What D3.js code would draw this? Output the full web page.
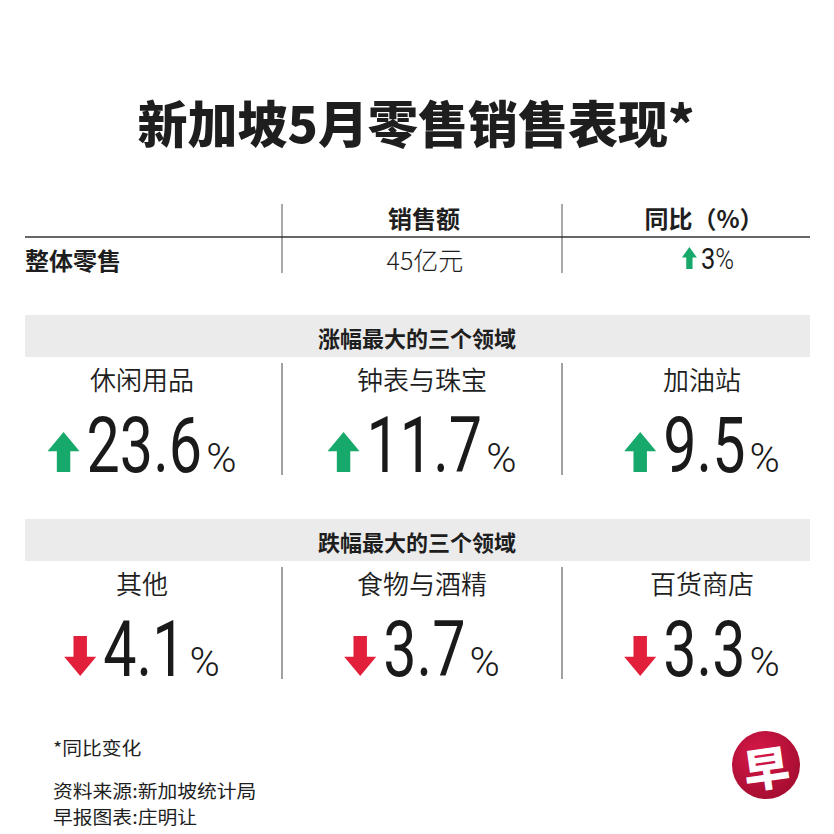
<!DOCTYPE html>
<html>
<head>
<meta charset="utf-8">
<script src="https://cdn.jsdelivr.net/npm/d3@7"></script>
<style>
 body{margin:0;background:#fff;}
 svg{display:block;}
 .cjk{font-family:"Noto Sans CJK SC",sans-serif;fill:#1e1e1e;}
 .num{font-family:Roboto,"Liberation Sans",sans-serif;font-weight:400;fill:#1a1a1a;}
</style>
</head>
<body>
<div id="chart"></div>
<script>
// Chart values
var chartTitle = "新加坡5月零售销售表现*";
var headerLabels = ["", "销售额", "同比（%）"];
var overallLabel = "整体零售";
var overallSales = "45亿元";
var overallChange = 3;
var gainTitle = "涨幅最大的三个领域";
var gainCategories = ["休闲用品", "钟表与珠宝", "加油站"];
var gainValues = [23.6, 11.7, 9.5];
var lossTitle = "跌幅最大的三个领域";
var lossCategories = ["其他", "食物与酒精", "百货商店"];
var lossValues = [-4.1, -3.7, -3.3];
var footNotes = ["*同比变化", "资料来源:新加坡统计局", "早报图表:庄明让"];
var logoChar = "早";

var W = 834, H = 834;
var green = "#17a86b", red = "#e2203c";

var svg = d3.select("#chart").append("svg")
 .attr("width", W).attr("height", H);
svg.append("rect").attr("width", W).attr("height", H).attr("fill", "#fff");

var xCol = d3.scaleBand().domain([0, 1, 2]).range([0, 840]);	//three columns
var bw = xCol.bandwidth();
function colMid(i){ return xCol(i) + bw / 2; }

//Arrow shape, up or down, w wide h tall, base line at 0
function arrowPath(up, w, h){
 var head = h * 0.48, shaft = w * 0.42;
 var p = d3.path();
 var s = up ? -1 : 1;				//up arrow grows to negative y
 p.moveTo(w / 2, s * h);
 p.lineTo(w, s * (h - head));
 p.lineTo(w / 2 + shaft / 2, s * (h - head));
 p.lineTo(w / 2 + shaft / 2, 0);
 p.lineTo(w / 2 - shaft / 2, 0);
 p.lineTo(w / 2 - shaft / 2, s * (h - head));
 p.lineTo(0, s * (h - head));
 p.closePath();
 return p.toString();
}

//Arrow + number + % centred on cx, baseline at y
//numbers are squeezed with a scale so they read like a condensed face
function valueGroup(v, cx, y, opt){
 var g = svg.append("g");
 var up = v >= 0;
 var a = g.append("path")
  .attr("fill", up ? green : red);
 var num = g.append("text").attr("class", "num")
  .style("font-size", opt.numSize + "px")
  .text(opt.fmt(Math.abs(v)));
 var pct = g.append("text").attr("class", "num")
  .style("font-size", opt.pctSize + "px")
  .style("font-weight", opt.pctWeight)
  .text("%");
 var wn = num.node().getComputedTextLength() * opt.k;
 var wp = pct.node().getComputedTextLength() * opt.kp;
 var x0 = opt.aw + opt.gap;
 num.attr("transform", "translate(" + x0 + ",0) scale(" + opt.k + ",1)");
 pct.attr("transform", "translate(" + (x0 + wn + opt.gap2) + ",0) scale(" + opt.kp + ",1)");
 if(up){
  a.attr("d", arrowPath(true, opt.aw, opt.ah));
 } else {
  a.attr("d", arrowPath(false, opt.aw, opt.ah)).attr("transform", "translate(0," + (-opt.ah) + ")");
 }
 var total = x0 + wn + opt.gap2 + wp;
 g.attr("transform", "translate(" + (cx - total / 2) + "," + y + ")");
}

// Title
svg.append("text").attr("class", "cjk")
 .attr("x", W / 2 - 1).attr("y", 121)
 .attr("text-anchor", "middle").attr("dominant-baseline", "central")
 .style("font-size", "50px").style("font-weight", 900)
 .text(chartTitle);

// Header table
[1, 2].forEach(function(i){
 svg.append("line")
  .attr("x1", xCol(i) + 2).attr("x2", xCol(i) + 2)
  .attr("y1", 204).attr("y2", 273)
  .attr("stroke", "#555").attr("stroke-width", 1);
});
svg.append("line").attr("x1", 25).attr("x2", 810)
 .attr("y1", 237).attr("y2", 237)
 .attr("stroke", "#333").attr("stroke-width", 1.6);

svg.selectAll(".hdr").data(headerLabels).enter().append("text")
 .attr("class", "cjk")
 .attr("x", function(d, i){ return colMid(i) + 4; })
 .attr("y", 217)
 .attr("text-anchor", "middle").attr("dominant-baseline", "central")
 .style("font-size", "24px").style("font-weight", 700)
 .text(function(d){ return d; });

svg.append("text").attr("class", "cjk")
 .attr("x", 25).attr("y", 259).attr("dominant-baseline", "central")
 .style("font-size", "24px").style("font-weight", 700)
 .text(overallLabel);
svg.append("text").attr("class", "cjk")
 .attr("x", colMid(1) + 5).attr("y", 259)
 .attr("text-anchor", "middle").attr("dominant-baseline", "central")
 .style("font-size", "25px").style("font-weight", 300)
 .text(overallSales);
valueGroup(overallChange, colMid(2) + 8, 269, {
 numSize: 30, pctSize: 30, pctWeight: 300, k: 0.85, kp: 0.85,
 fmt: d3.format("d"), aw: 15, ah: 22, gap: 4, gap2: 0
});

// Band sections
function section(title, cats, vals, top){
 svg.append("rect").attr("x", 25).attr("y", top)
  .attr("width", 785).attr("height", 42).attr("fill", "#ebebeb");
 svg.append("text").attr("class", "cjk")
  .attr("x", W / 2).attr("y", top + 22)
  .attr("text-anchor", "middle").attr("dominant-baseline", "central")
  .style("font-size", "22px").style("font-weight", 700)
  .text(title);
 [1, 2].forEach(function(i){
  svg.append("line")
   .attr("x1", xCol(i) + 2).attr("x2", xCol(i) + 2)
   .attr("y1", top + 48).attr("y2", top + 160)
   .attr("stroke", "#444").attr("stroke-width", 1);
 });
 svg.selectAll(null).data(cats).enter().append("text")
  .attr("class", "cjk")
  .attr("x", function(d, i){ return colMid(i) + 2; })
  .attr("y", top + 63)
  .attr("text-anchor", "middle").attr("dominant-baseline", "central")
  .style("font-size", "26px").style("font-weight", 350)
  .text(function(d){ return d; });
 vals.forEach(function(v, i){
  valueGroup(v, colMid(i) + 2, top + 157, {
   numSize: 78, pctSize: 41, pctWeight: 300, k: 0.76, kp: 1,
   fmt: d3.format(".1f"), aw: 32, ah: 40, gap: 7, gap2: 4
  });
 });
}
section(gainTitle, gainCategories, gainValues, 315);
section(lossTitle, lossCategories, lossValues, 519);

// Footnotes, slightly widened like the original face
var fy = [747, 790, 816];
svg.selectAll(".foot").data(footNotes).enter().append("text")
 .attr("class", "cjk")
 .attr("dominant-baseline", "central")
 .attr("transform", function(d, i){ return "translate(53," + fy[i] + ") scale(1.1,1)"; })
 .style("font-size", "18px")
 .text(function(d){ return d; });

// Logo
var grad = svg.append("defs").append("radialGradient").attr("id", "lg")
 .attr("cx", "40%").attr("cy", "35%").attr("r", "70%");
grad.append("stop").attr("offset", "0%").attr("stop-color", "#d81848");
grad.append("stop").attr("offset", "100%").attr("stop-color", "#a30d30");
svg.append("circle").attr("cx", 766).attr("cy", 765).attr("r", 34)
 .attr("fill", "url(#lg)");
svg.append("text").attr("class", "cjk")
 .attr("x", 766).attr("y", 766)
 .attr("text-anchor", "middle").attr("dominant-baseline", "central")
 .attr("transform", "rotate(-8,766,766)")
 .style("fill", "#fff").style("font-size", "46px").style("font-weight", 900)
 .text(logoChar);
</script>
</body>
</html>
